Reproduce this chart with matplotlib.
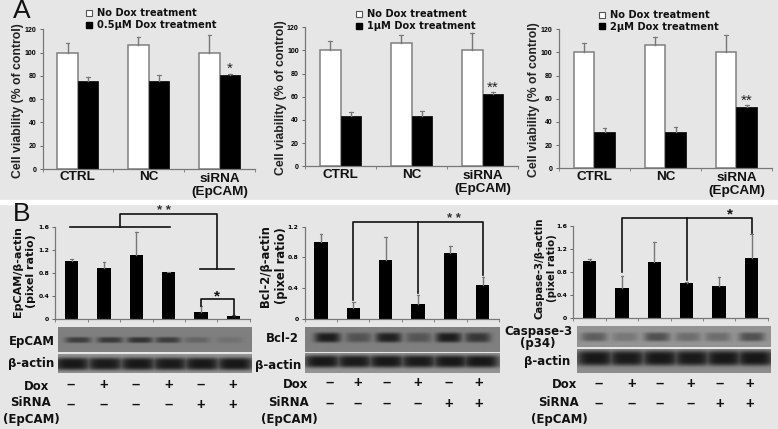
import numpy as np
from matplotlib import pyplot as plt
from matplotlib.transforms import blended_transform_factory

plt.rcParams['font.family'] = ['Liberation Sans', 'DejaVu Sans']
plt.rcParams['font.weight'] = 'bold'

W, H = 778, 429
BG = '#e6e6e6'

# panel A values
groups = ['CTRL', 'NC', 'siRNA\n(EpCAM)']
no_dox = [100, 106.5, 100]
no_dox_top = [108, 113.5, 115]
a_doses = ['0.5µM', '1µM', '2µM']
dox_05 = [76, 76, 80.5]
dox_05_top = [79, 80.5, 82]
dox_1 = [43, 43, 62.5]
dox_1_top = [46.5, 47.5, 64]
dox_2 = [31.5, 31.5, 53]
dox_2_top = [35, 36, 54.5]

# panel B values
epcam = [1.0, 0.89, 1.11, 0.81, 0.11, 0.04]
epcam_top = [1.03, 0.99, 1.51, 0.82, 0.22, 0.06]
bcl2 = [1.0, 0.14, 0.77, 0.19, 0.86, 0.44]
bcl2_top = [1.10, 0.22, 1.07, 0.31, 0.95, 0.54]
casp3 = [1.0, 0.53, 0.98, 0.61, 0.55, 1.04]
casp3_top = [1.03, 0.73, 1.32, 0.62, 0.71, 1.46]
dox_signs = ['–', '+', '–', '+', '–', '+']
sirna_signs = ['–', '–', '–', '–', '+', '+']

# blot band strength per lane, 0 to 1
epcam_bands = [0.62, 0.66, 0.72, 0.62, 0.25, 0.14]
bcl2_bands = [0.92, 0.42, 0.88, 0.4, 0.92, 0.68]
casp3_bands = [0.42, 0.22, 0.52, 0.3, 0.3, 0.52]
actin_bands = [0.97, 0.95, 0.97, 0.95, 0.97, 0.98]


def axes_px(fig, left, top, right, bottom):
    return fig.add_axes([left/W, 1-bottom/H, (right-left)/W, (bottom-top)/H], facecolor='none')


def style(ax, ymax, size):
    for s in ['top', 'right']:
        ax.spines[s].set_visible(False)
    for s in ['left', 'bottom']:
        ax.spines[s].set_color('#777777')
        ax.spines[s].set_linewidth(0.9)
    ax.set_ylim(0, ymax)
    ax.tick_params(axis='y', labelsize=size, length=2.5, width=0.7, color='#666666', pad=2)
    ax.tick_params(axis='x', length=2, width=0.6, color='#777777', labelbottom=False)


def panel_a(fig, over, box, dox, dox_top, dose, star, leg_x, leg_y, ylab_xy):
    ax = axes_px(fig, *box)
    x = np.arange(3)
    ax.bar(x-0.145, no_dox, 0.29, color='white', edgecolor='#808080', linewidth=1.1)
    ax.bar(x+0.145, dox, 0.29, color='black', edgecolor='black', linewidth=0.5)
    for i in x:
        ax.plot([i-0.145, i-0.145], [no_dox[i], no_dox_top[i]], color='#777777', lw=1)
        ax.plot([i-0.145-0.025, i-0.145+0.025], [no_dox_top[i]]*2, color='#777777', lw=0.8)
        ax.plot([i+0.145, i+0.145], [dox[i], dox_top[i]], color='#777777', lw=1)
        ax.plot([i+0.145-0.025, i+0.145+0.025], [dox_top[i]]*2, color='#777777', lw=0.8)
    ax.set_xlim(-0.5, 2.5)
    ax.set_xticks([-0.5, 0.5, 1.5, 2.5])
    ax.set_yticks(range(0, 121, 20))
    style(ax, 120, 5)
    ax.text(2.145, dox_top[2]-2, star, ha='center', va='bottom', fontsize=11, color='#222222',
            fontweight='normal', linespacing=1)
    over.text(ylab_xy[0], ylab_xy[1], 'Cell viability (% of control)', rotation=90, ha='center',
              va='center', fontsize=8.8, color='#222222')
    tr = blended_transform_factory(ax.transData, over.transData)
    ax.text(0, box[3]+8.5, groups[0], transform=tr, ha='center', va='center', fontsize=9.7, color='#111111')
    ax.text(1, box[3]+8.5, groups[1], transform=tr, ha='center', va='center', fontsize=9.7, color='#111111')
    ax.text(2, box[3]+16.5, groups[2], transform=tr, ha='center', va='center', fontsize=9.7,
            color='#111111', linespacing=1.15)
    over.plot([leg_x], [leg_y], 's', ms=5, mfc='white', mec='#555555', mew=0.8)
    over.plot([leg_x], [leg_y+11.5], 's', ms=5, mfc='black', mec='black')
    over.text(leg_x+8, leg_y, 'No Dox treatment', ha='left', va='center', fontsize=7.1,
              family='DejaVu Sans', color='#111111')
    over.text(leg_x+8, leg_y+12, dose+' Dox treatment', ha='left', va='center', fontsize=7.1,
              family='DejaVu Sans', color='#111111')
    return ax


def blot(over, extent, bands, bg, band_h, band_w, lanes, centre=0.5):
    # bands with soft edges on a grey membrane
    left, right, top, bottom = extent
    nx, ny = int((right-left)*2), int((bottom-top)*2)
    px = np.linspace(left, right, nx)
    yy = np.linspace(0, 1, ny)
    xx, yy = np.meshgrid(px, yy)
    img = np.full((ny, nx), bg, dtype=float)
    dark = np.zeros((ny, nx))
    for cx, b in zip(lanes, bands):
        dark = np.maximum(dark, b*np.exp(-((xx-cx)/band_w)**4)*np.exp(-((yy-centre)/band_h)**4))
    img = img*(1-dark) + 0.08*dark
    over.imshow(img, extent=(left, right, bottom, top), cmap='gray', vmin=0, vmax=1,
                aspect='auto', interpolation='bilinear', zorder=2)


def panel_b(fig, over, box, vals, tops, ymax, step, ylabel, ylab_xy, ylab_size, sign_x, sign_y, dox_xy, sir_xy):
    ax = axes_px(fig, *box)
    x = np.arange(6)
    ax.bar(x, vals, 0.41, color='black')
    for i in x:
        ax.plot([i, i], [vals[i], tops[i]], color='#777777', lw=1)
        ax.plot([i-0.04, i+0.04], [tops[i]]*2, color='#777777', lw=0.8)
    ax.set_xlim(-0.5, 5.5)
    ax.set_xticks(np.arange(-0.5, 6))
    ax.set_yticks(np.arange(0, ymax+0.01, step))
    ax.set_yticklabels(['0' if v == 0 else '%.1f' % v for v in np.arange(0, ymax+0.01, step)],
                       family='DejaVu Sans')
    style(ax, ymax, 4.4)
    over.text(ylab_xy[0], ylab_xy[1], ylabel, rotation=90, ha='center', va='center', fontsize=ylab_size,
              family='DejaVu Sans', linespacing=1.3, color='#111111')
    for sx, d, s in zip(sign_x, dox_signs, sirna_signs):
        over.text(sx, sign_y[0], d, ha='center', va='center', fontsize=10.5, color='#111111')
        over.text(sx, sign_y[1], s, ha='center', va='center', fontsize=10.5, color='#111111')
    over.text(dox_xy[0], dox_xy[1], 'Dox', ha='right', va='center', fontsize=8.4,
              family='DejaVu Sans', color='#111111')
    over.text(sir_xy[0], sir_xy[1], 'SiRNA\n(EpCAM)', ha='center', va='center', fontsize=8.5,
              family='DejaVu Sans', linespacing=1.35, color='#111111')
    return ax


def main():
    fig = plt.figure(figsize=(W/100, H/100), dpi=100, facecolor=BG)
    over = fig.add_axes([0, 0, 1, 1], facecolor='none', zorder=5)
    over.axis('off')
    over.axhspan(200, 203.5, color='white', zorder=0)

    panel_a(fig, over, (42.5, 29.3, 255, 169), dox_05, dox_05_top, a_doses[0], '*', 89, 13, (18, 101))
    panel_a(fig, over, (305, 27.3, 518, 166.3), dox_1, dox_1_top, a_doses[1], '**', 359, 14, (281, 97.5))
    panel_a(fig, over, (558.7, 29.3, 772, 168.3), dox_2, dox_2_top, a_doses[2], '**', 601.7, 14.5, (534, 100))

    over.text(13, 11, 'A', fontsize=19, fontweight='normal', ha='left', va='center', color='#111111')
    over.text(13, 214, 'B', fontsize=19, fontweight='normal', ha='left', va='center', color='#111111')

    b1 = panel_b(fig, over, (55.4, 226.7, 249.7, 318.7), epcam, epcam_top, 1.6, 0.4,
                 'EpCAM/β-actin\n(pixel ratio)', (24.5, 271.5), 8.0,
                 [70.7, 103.3, 135.3, 168.7, 200.7, 232.3], (385, 405), (49, 386), (31, 411))
    b2 = panel_b(fig, over, (304.7, 226.7, 499, 318.7), bcl2, bcl2_top, 1.2, 0.4,
                 'Bcl-2/β-actin\n(pixel ratio)', (273.5, 265.7), 8.3,
                 [329.3, 357.3, 386.7, 417.7, 448.3, 478.7], (383, 404), (307.7, 384), (289, 411))
    b3 = panel_b(fig, over, (573.3, 226, 767.7, 318), casp3, casp3_top, 1.6, 0.4,
                 'Caspase-3/β-actin\n(pixel ratio)', (546, 268), 7.3,
                 [599, 631.3, 660, 690.7, 719.3, 749.3], (384, 404), (576.7, 385), (559, 411))

    # blots
    epcam_x = [78, 110, 140, 168, 197, 230]
    bcl2_x = [327, 358, 388, 418, 448, 477]
    casp3_x = [594, 625, 657, 688, 718, 752]
    actin_wide = 19
    blot(over, (58, 252, 327, 352), epcam_bands, 0.5, 0.12, 13, epcam_x, centre=0.52)
    blot(over, (58, 252, 354, 373), actin_bands, 0.58, 0.34, actin_wide, [72, 105, 138, 170, 202, 235], centre=0.52)
    blot(over, (304.7, 499, 327, 352), bcl2_bands, 0.5, 0.2, 13, bcl2_x, centre=0.42)
    blot(over, (304.7, 499, 353.5, 373), actin_bands, 0.58, 0.32, actin_wide, [322, 354, 386, 418, 450, 480], centre=0.42)
    blot(over, (577, 771, 327, 347.3), casp3_bands, 0.58, 0.22, 13, casp3_x, centre=0.52)
    blot(over, (577, 771, 349, 373), actin_bands, 0.55, 0.32, actin_wide, [595, 627, 660, 692, 724, 755], centre=0.38)
    over.set_xlim(0, W)
    over.set_ylim(H, 0)

    for tx, ty, t, ha in [(55, 341, 'EpCAM', 'right'), (54, 363, 'β-actin', 'right'),
                          (299, 338, 'Bcl-2', 'right'), (301, 366, 'β-actin', 'right'),
                          (572.7, 331.5, 'Caspase-3', 'right'), (570, 362, 'β-actin', 'right'),
                          (520.5, 343, '(p34)', 'left')]:
        over.text(tx, ty, t, ha=ha, va='center', fontsize=8.5, family='DejaVu Sans',
                  color='#111111', zorder=6)

    # significance brackets, lanes on x, pixel row on y
    t1 = blended_transform_factory(b1.transData, over.transData)
    b1.plot([-0.05, 3.05], [227, 227], color='#111111', lw=1.2, clip_on=False, transform=t1)
    b1.plot([1.5, 1.5, 4.5, 4.5], [227, 213.7, 213.7, 269.3], color='#111111', lw=1.2,
            clip_on=False, transform=t1)
    b1.plot([3.95, 5.02], [269.3, 269.3], color='#111111', lw=1.2, clip_on=False, transform=t1)
    b1.plot([4, 4, 5, 5], [306, 299, 299, 316.7], color='#111111', lw=1.2, clip_on=False, transform=t1)
    b1.text(2.85, 211, '* *', transform=t1, ha='center', va='center', fontsize=9.5, color='#333333')
    b1.text(4.5, 296, '*', transform=t1, ha='center', va='center', fontsize=11, color='#111111')

    t2 = blended_transform_factory(b2.transData, over.transData)
    b2.plot([1, 1, 5, 5], [300, 222, 222, 275], color='#111111', lw=1.2, clip_on=False, transform=t2)
    b2.plot([3, 3], [222, 293], color='#111111', lw=1.2, clip_on=False, transform=t2)
    b2.text(4.1, 219, '* *', transform=t2, ha='center', va='center', fontsize=9.5, color='#333333')

    t3 = blended_transform_factory(b3.transData, over.transData)
    b3.plot([1, 1, 5, 5], [271.7, 218.3, 218.3, 233], color='#111111', lw=1.2, clip_on=False, transform=t3)
    b3.plot([3, 3], [218.3, 280], color='#111111', lw=1.2, clip_on=False, transform=t3)
    b3.text(4.33, 214, '*', transform=t3, ha='center', va='center', fontsize=11, color='#111111')

    fig.savefig('out.png', dpi=100, facecolor=BG)


if __name__ == "__main__":
    main()
